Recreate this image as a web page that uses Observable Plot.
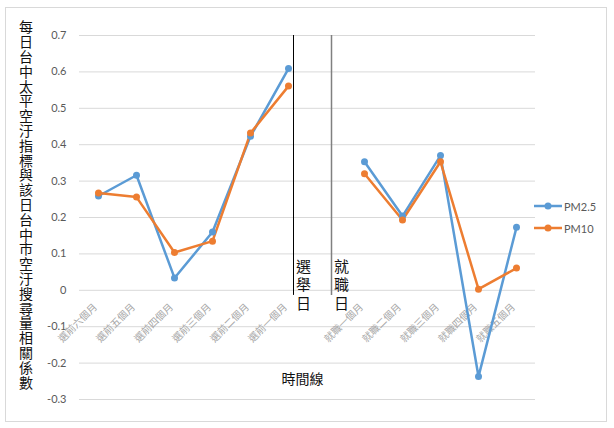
<!DOCTYPE html>
<html>
<head>
<meta charset="utf-8">
<script src="https://cdn.jsdelivr.net/npm/d3@7"></script>
<script src="https://cdn.jsdelivr.net/npm/@observablehq/plot@0.6"></script>
<style>
  html, body { margin: 0; padding: 0; background: #fff; }
  #wrap { position: relative; width: 614px; height: 428px; }
  #border { position: absolute; left: 5px; top: 7px; width: 600px; height: 413px; border: 1px solid #d9d9d9; pointer-events: none; }
  #legend { position: absolute; left: 534px; top: 195px; font-family: Lato, "Open Sans", sans-serif; font-size: 11px; color: #595959; }
  .item { display: flex; align-items: center; height: 22px; }
  .item svg { margin-right: 1px; }
  #ytitle { position: absolute; left: 19px; top: 20px; writing-mode: vertical-rl; text-orientation: upright; font-family: "Noto Sans CJK TC", sans-serif; font-size: 14px; line-height: 14px; letter-spacing: 0.8px; color: #111; white-space: nowrap; }
  .vtext text { writing-mode: vertical-rl; text-orientation: upright; letter-spacing: 3.5px; }
</style>
</head>
<body>
<div id="wrap"><div id="border"></div><div id="legend"></div><div id="ytitle"></div></div>
<script>
const categories = ["選前六個月","選前五個月","選前四個月","選前三個月","選前二個月","選前一個月"," ","就職一個月","就職二個月","就職三個月","就職四個月","就職五個月"];
const pm25 = [0.259, 0.316, 0.034, 0.160, 0.423, 0.609, null, 0.353, 0.204, 0.370, -0.237, 0.173];
const pm10 = [0.267, 0.256, 0.104, 0.135, 0.432, 0.561, null, 0.320, 0.193, 0.353, 0.003, 0.061];
const seriesNames = ["PM2.5", "PM10"];
const seriesColors = ["#5B9BD5", "#ED7D31"];
const yTicks = [-0.3, -0.2, -0.1, 0, 0.1, 0.2, 0.3, 0.4, 0.5, 0.6, 0.7];
const yTitle = "每日台中太平空汙指標與該日台中市空汙搜尋量相關係數";
const xTitle = "時間線";
const events = [
  {after: "選前一個月", label: "選舉日", stroke: "#000000"},
  {after: " ", label: "就職日", stroke: "#808080"}
];

const rows = [];
categories.forEach((c, i) => {
  rows.push({cat: c, value: pm25[i], series: seriesNames[0]});
  rows.push({cat: c, value: pm10[i], series: seriesNames[1]});
});

const cjk = '"Noto Sans CJK TC", "Noto Sans", sans-serif';

const chart = Plot.plot({
  width: 614,
  height: 428,
  marginLeft: 79,
  marginRight: 79,
  marginTop: 35,
  marginBottom: 29,
  x: {type: "point", domain: categories, padding: 0.5, axis: null},
  y: {domain: [-0.3, 0.7], axis: null},
  color: {domain: seriesNames, range: seriesColors},
  style: {background: "transparent", fontFamily: cjk},
  marks: [
    Plot.gridY(yTicks, {stroke: "#d9d9d9", strokeOpacity: 1}),
    Plot.axisY(yTicks, {tickSize: 0, tickPadding: 13, tickFormat: d => d === 0 ? "0" : d.toFixed(1), fill: "#595959", fontSize: 11, fontFamily: "Lato, 'Open Sans', sans-serif", label: null}),
    Plot.text(categories, {x: d => d, y: () => 0, text: d => d.trim(), rotate: -45, textAnchor: "end", dx: -3, dy: 15, fontSize: 10, fill: "#a6a6a6"}),
    Plot.ruleX(events, {x: "after", y1: () => 0.7, y2: () => -0.014, dx: 5, stroke: "stroke", strokeWidth: (d, i) => i === 0 ? 1 : 1.5}),
    Plot.text(events, {x: "after", y: () => 0, text: "label", textAnchor: "middle", dx: 15, dy: -9, fontSize: 15, fill: "#111", className: "vtext"}),
    Plot.line(rows, {x: "cat", y: "value", z: "series", stroke: "series", strokeWidth: 2.5}),
    Plot.dot(rows, {x: "cat", y: "value", fill: "series", r: 3.5}),
    Plot.text([xTitle], {frameAnchor: "bottom", dx: -5, dy: -16, fontSize: 14, fill: "#111"})
  ]
});
const wrap = document.getElementById("wrap");
wrap.insertBefore(chart, wrap.firstChild);
document.getElementById("ytitle").textContent = yTitle;

const legend = document.getElementById("legend");
seriesNames.forEach((name, i) => {
  const item = document.createElement("div");
  item.className = "item";
  item.innerHTML = `<svg width="29" height="10"><line x1="0" y1="5" x2="28" y2="5" stroke="${seriesColors[i]}" stroke-width="2.5"/><circle cx="14" cy="5" r="3.5" fill="${seriesColors[i]}"/></svg><span>${name}</span>`;
  legend.appendChild(item);
});
</script>
</body>
</html>
